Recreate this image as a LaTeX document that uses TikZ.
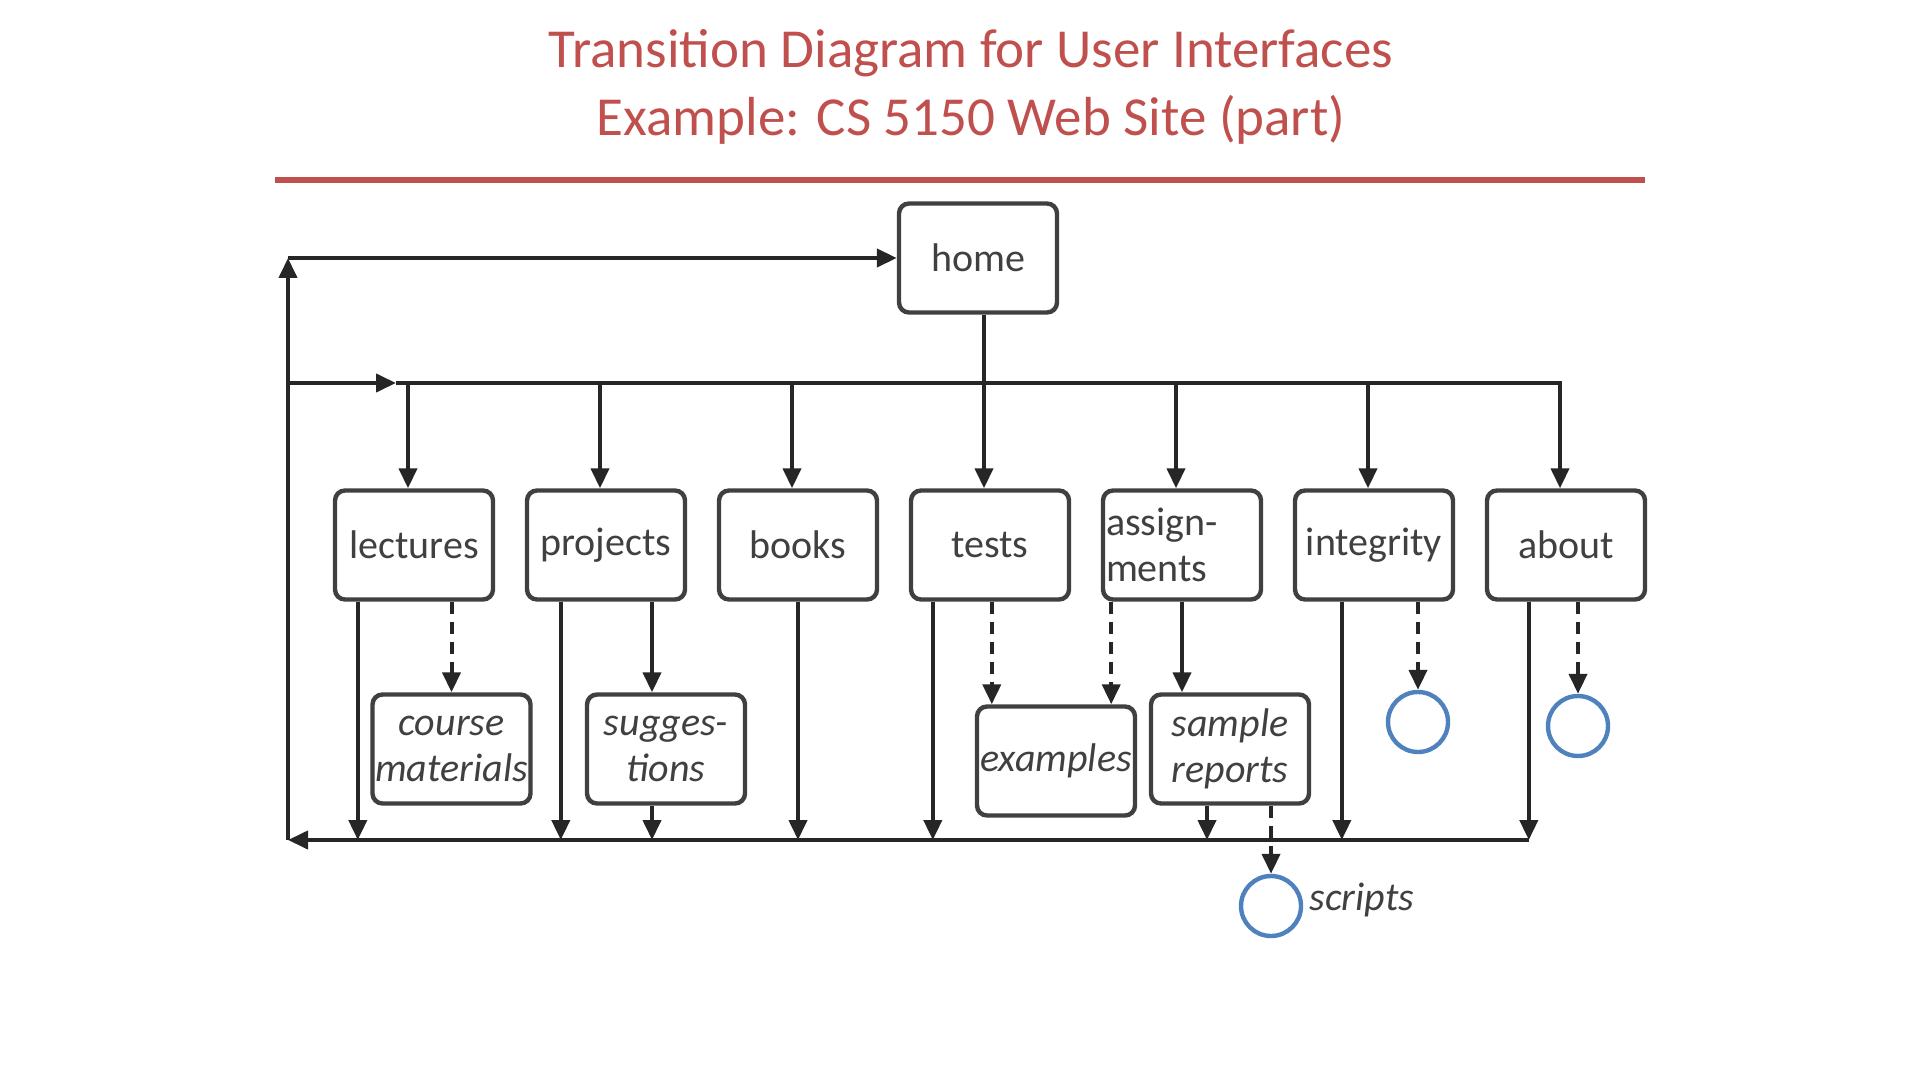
\documentclass[tikz,border=0pt]{standalone}
\usepackage{fontspec}
\setmainfont{Carlito}
\usetikzlibrary{arrows.meta, positioning}
\definecolor{titlered}{RGB}{192,80,77}
\definecolor{exitblue}{RGB}{79,129,189}
\definecolor{boxgray}{RGB}{64,64,64}
\tikzstyle{wire} = [line width=2pt, draw=black!85]
\tikzstyle{arrow} = [wire, -{Triangle[length=10pt,width=9pt]}]
\tikzstyle{dasharrow} = [arrow, dash pattern=on 6pt off 4pt]

\begin{document}
\begin{tikzpicture}[x=0.5pt, y=-0.5pt, node distance=96pt,
  main/.style = {draw=boxgray, line width=2.2pt, rounded corners=5pt, minimum width=79pt, minimum height=54.5pt, inner sep=1pt, text=black!75, font=\fontsize{20}{23}\selectfont},
  sub/.style = {main, align=center, font=\fontsize{20}{23}\selectfont\itshape},
  exit/.style = {draw=exitblue, line width=2.2pt, circle, minimum size=30pt, inner sep=0pt}]
\useasboundingbox (0,0) rectangle (1920,1080);
\node[text=titlered, align=center, font=\fontsize{27.5}{34}\selectfont] (title) at (971,87) {Transition Diagram for User Interfaces\\Example: CS 5150 Web Site (part)};
\draw[titlered, line width=3pt] (275,180) -- (1645,180);

\node[main] (tests) at (990,545) {tests};
\node[main] (books) [left of=tests] {books};
\node[main] (projects) [left of=books] {projects};
\node[main] (lectures) [left of=projects] {lectures};
\node[main, text width=76pt, align=left] (assign) [right of=tests] {assign-\\ments};
\node[main] (integ) [right of=assign] {integrity};
\node[main] (about) [right of=integ] {about};
\node[main] (home) [above of=tests, node distance=143.5pt, xshift=-6pt] {home};

\node[sub] (course) [below of=lectures, node distance=102pt, xshift=18.75pt] {course\\materials};
\node[sub] (sugg) [below of=projects, node distance=102pt, xshift=30pt] {sugges-\\tions};
\node[sub] (examples) [below of=tests, node distance=108pt, xshift=33pt] {examples};
\node[sub] (sample) [below of=assign, node distance=102pt, xshift=24pt] {sample\\reports};
\node[exit] (integexit) [below of=integ, node distance=88.5pt, xshift=22pt] {};
\node[exit] (aboutexit) [below of=about, node distance=90.5pt, xshift=6pt] {};
\node[exit] (scripts) [below of=sample, node distance=78.5pt, xshift=20.5pt] {};
\node[inner sep=0pt, text=black!75, font=\fontsize{20}{23}\selectfont\itshape, right=3pt of scripts, yshift=3pt] (scriptslabel) {scripts};

\coordinate (busL) at (288,383);
\coordinate (botL) at (288,840);
\coordinate (topL) at (busL |- home.west);
\coordinate (botR) at ([xshift=22pt]about.south west |- botL);
\coordinate (lectin) at ([xshift=-3pt]lectures.north);
\coordinate (projin) at ([xshift=-3pt]projects.north);
\coordinate (bookin) at ([xshift=-3pt]books.north);
\coordinate (testin) at ([xshift=-3pt]tests.north);
\coordinate (assignin) at ([xshift=-3pt]assign.north);
\coordinate (integin) at ([xshift=-3pt]integ.north);
\coordinate (aboutin) at ([xshift=-3pt]about.north);
\coordinate (busarrow) at ([xshift=-6pt]busL -| lectin);
\coordinate (lectret) at ([xshift=12.5pt]lectures.south west);
\coordinate (projret) at ([xshift=18pt]projects.south west);
\coordinate (testret) at ([xshift=12pt]tests.south west);
\coordinate (integret) at ([xshift=24.5pt]integ.south west);
\coordinate (suggin) at ([xshift=-7pt]sugg.north);
\coordinate (exin1) at ([xshift=8.5pt]examples.north west);
\coordinate (exin2) at ([xshift=-13pt]examples.north east);
\coordinate (sampret) at ([xshift=-11.5pt]sample.south);

\draw[arrow] (botR) -- (botL);
\draw[arrow] (botL) -- (topL);
\draw[arrow] (topL) -- (home.west);
\draw[wire] (home.south -| testin) -- (busL -| testin);
\draw[arrow] (busL) -- (busarrow);
\draw[arrow] (busarrow) -- (busL -| aboutin) -- (aboutin);
\draw[arrow] (busL -| lectin) -- (lectin);
\draw[arrow] (busL -| projin) -- (projin);
\draw[arrow] (busL -| bookin) -- (bookin);
\draw[arrow] (busL -| testin) -- (testin);
\draw[arrow] (busL -| assignin) -- (assignin);
\draw[arrow] (busL -| integin) -- (integin);

\draw[arrow] (lectret) -- (lectret |- botL);
\draw[arrow] (projret) -- (projret |- botL);
\draw[arrow] (books.south) -- (books.south |- botL);
\draw[arrow] (testret) -- (testret |- botL);
\draw[arrow] (integret) -- (integret |- botL);
\draw[arrow] (about.south -| botR) -- (botR);
\draw[arrow] (sugg.south -| suggin) -- (suggin |- botL);
\draw[arrow] (sampret) -- (sampret |- botL);

\draw[dasharrow] (lectures.south -| course.north) -- (course.north);
\draw[arrow] (projects.south -| suggin) -- (suggin);
\draw[dasharrow] (tests.south -| exin1) -- (exin1);
\draw[dasharrow] (assign.south -| exin2) -- (exin2);
\draw[arrow] (assign.south) -- (assign.south |- sample.north);
\draw[dasharrow] (integ.south -| integexit.north) -- (integexit.north);
\draw[dasharrow] (about.south -| aboutexit.north) -- (aboutexit.north);
\draw[dasharrow] (sample.south -| scripts.north) -- (scripts.north);
\end{tikzpicture}
\end{document}
